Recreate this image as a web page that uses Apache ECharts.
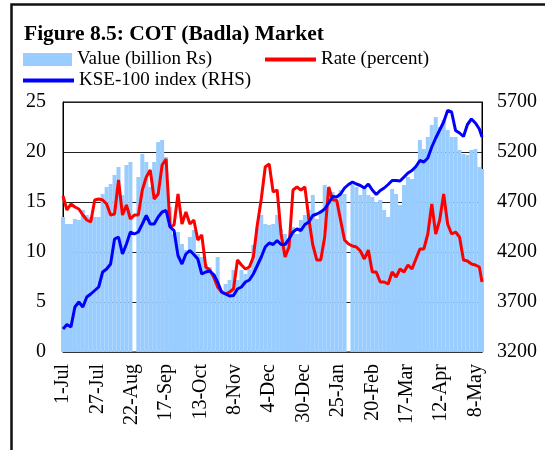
<!DOCTYPE html>
<html>
<head>
<meta charset="utf-8">
<script src="https://cdn.jsdelivr.net/npm/echarts@6/dist/echarts.min.js"></script>
<style>
html,body{margin:0;padding:0;background:#fff;}
#chart{width:545px;height:450px;}
</style>
</head>
<body>
<div id="chart"></div>
<script>
// Day offsets from 1-Jul (sample points)
const days = [0,3,6,9,12,15,18,21,24,27,30,33,36,39,42,45,48,51,54,57,60,63,66,69,72,75,78,81,84,87,90,93,96,99,102,105,108,111,114,117,120,123,126,129,132,135,138,141,144,147,150,153,156,159,162,165,168,171,174,177,180,183,186,189,192,195,198,201,204,207,210,213,216,219,222,225,228,231,234,237,240,243,246,249,252,255,258,261,264,267,270,273,276,279,282,285,288,291,294,297,300,303,306,309,312,315,317];
// Value (billion Rs)
const valueBn = [13.5,12.8,12.8,13.3,13.2,14.2,13.7,13.5,13.5,13.5,15.8,16.5,16.8,17.7,18.5,15.7,18.7,19.0,null,17.5,19.8,19.0,16.5,19.0,21.0,21.2,19.5,14.5,11.8,12.0,10.8,10.2,11.5,12.2,9.8,9.5,8.8,8.5,7.8,9.5,6.2,6.8,7.2,8.2,7.2,8.2,7.8,8.3,10.7,12.5,13.7,12.8,12.7,12.8,13.7,12.3,11.8,11.3,12.5,11.8,13.2,13.7,14.2,15.7,13.3,14.2,16.7,16.2,16.0,15.2,16.2,15.8,null,16.8,16.5,15.7,16.5,15.7,15.5,15.0,15.2,14.2,13.5,16.3,15.8,14.7,16.7,17.5,17.3,18.5,21.2,20.3,21.5,22.7,23.5,22.5,23.2,22.2,21.5,21.5,20.2,19.8,19.7,20.2,20.3,18.5,18.3];
// Rate (percent)
const ratePct = [15.6,14.2,14.8,14.5,14.3,13.7,13.2,13.0,15.2,15.3,15.2,14.8,13.7,13.8,17.2,13.7,14.7,13.3,13.7,13.7,16.2,17.5,18.2,15.3,15.8,18.7,19.3,12.5,12.7,15.8,12.8,14.0,12.8,13.2,11.2,11.7,8.5,8.2,7.5,6.5,6.0,5.8,6.0,6.3,9.2,8.7,8.3,8.5,9.5,12.7,15.3,18.5,18.8,16.0,16.2,11.8,9.5,10.5,16.2,16.5,16.2,16.5,13.3,10.7,9.2,9.2,11.5,16.5,15.2,15.2,13.2,11.2,10.8,10.6,10.5,10.1,9.3,10.2,8.0,8.0,7.0,7.0,6.8,8.0,7.5,8.3,8.0,8.7,8.3,9.3,10.3,10.3,11.8,14.8,11.8,13.2,15.8,12.8,11.8,12.0,11.5,9.2,9.1,8.8,8.7,8.5,7.0];
// KSE-100 index (RHS)
const kseIndex = [3430,3475,3450,3650,3700,3650,3750,3780,3815,3850,4000,4030,4080,4330,4350,4180,4280,4400,4380,4400,4480,4565,4480,4480,4550,4600,4615,4450,4415,4165,4080,4180,4215,4175,4130,3980,4000,4010,3975,3900,3800,3780,3760,3765,3830,3850,3900,3920,3980,4065,4150,4250,4290,4275,4315,4275,4275,4330,4400,4430,4415,4475,4500,4565,4580,4600,4630,4690,4755,4750,4780,4840,4875,4900,4880,4865,4840,4880,4820,4775,4815,4840,4875,4915,4915,4910,4950,4990,5015,5055,5115,5100,5140,5250,5340,5420,5500,5615,5600,5415,5390,5355,5475,5530,5490,5430,5350];
// X tick labels (every 26 days from 1-Jul)
const xTickLabels = ['1-Jul','27-Jul','22-Aug','17-Sep','13-Oct','8-Nov','4-Dec','30-Dec','25-Jan','20-Feb','17-Mar','12-Apr','8-May'];

const pair = arr => days.map((d, i) => [d, arr[i]]);
const serif = '"Liberation Serif","Times New Roman",serif';
const legendText = {fontFamily: serif, fontSize: 19, color: '#000'};

const chart = echarts.init(document.getElementById('chart'), null, {renderer: 'canvas'});
chart.setOption({
  backgroundColor: '#fff',
  animation: false,
  title: {
    text: 'Figure 8.5: COT (Badla) Market',
    left: 24, top: 23, padding: 0,
    textStyle: {fontFamily: serif, fontSize: 21.5, fontWeight: 'bold', color: '#000'}
  },
  legend: [
    {
      data: [{name: 'Value (billion Rs)', icon: 'rect'}],
      left: 23, top: 50, padding: 0, itemWidth: 49, itemHeight: 13,
      textStyle: legendText
    },
    {
      data: [{name: 'Rate (percent)', icon: 'rect'}],
      left: 265, top: 50, padding: 0, itemWidth: 51, itemHeight: 4,
      textStyle: legendText
    },
    {
      data: [{name: 'KSE-100 index (RHS)', icon: 'rect'}],
      left: 23, top: 71, padding: 0, itemWidth: 51, itemHeight: 4,
      textStyle: legendText
    }
  ],
  grid: {left: 63, right: 63, top: 102, bottom: 98, show: true, borderColor: '#000', borderWidth: 1},
  xAxis: {
    type: 'value', min: 0, max: 317, interval: 26,
    axisLine: {show: true, lineStyle: {color: '#333', width: 1}},
    axisTick: {show: false},
    splitLine: {show: false},
    axisLabel: {
      rotate: 90, margin: 12, showMaxLabel: false,
      fontFamily: serif, fontSize: 20, color: '#000',
      formatter: v => { const i = Math.round(v / 26); return (v % 26 === 0 && xTickLabels[i]) ? xTickLabels[i] : ''; }
    }
  },
  yAxis: [
    {
      type: 'value', min: 0, max: 25, interval: 5,
      axisLine: {show: true, lineStyle: {color: '#000'}},
      axisTick: {show: false},
      splitLine: {show: true, lineStyle: {color: '#222', width: 1}},
      axisLabel: {margin: 17, fontFamily: serif, fontSize: 20, color: '#000'}
    },
    {
      type: 'value', min: 3200, max: 5700, interval: 500,
      axisLine: {show: true, lineStyle: {color: '#000'}},
      axisTick: {show: false},
      splitLine: {show: false},
      axisLabel: {margin: 15, fontFamily: serif, fontSize: 20, color: '#000', formatter: v => String(v)}
    }
  ],
  series: [
    {
      name: 'Value (billion Rs)', type: 'bar', yAxisIndex: 0,
      data: pair(valueBn), barWidth: 4,
      itemStyle: {color: '#99ccff'}, z: 1
    },
    {
      name: 'Rate (percent)', type: 'line', yAxisIndex: 0,
      data: pair(ratePct), symbol: 'none', showSymbol: false,
      lineStyle: {color: '#ff0000', width: 3}, itemStyle: {color: '#ff0000'}, z: 3
    },
    {
      name: 'KSE-100 index (RHS)', type: 'line', yAxisIndex: 1,
      data: pair(kseIndex), symbol: 'none', showSymbol: false,
      lineStyle: {color: '#0000ff', width: 3}, itemStyle: {color: '#0000ff'}, z: 4
    }
  ],
  graphic: [
    {type: 'rect', shape: {x: 11.5, y: 4.5, width: 600, height: 500},
     style: {fill: 'none', stroke: '#111', lineWidth: 2.5}, silent: true, z: 100}
  ]
});
</script>
</body>
</html>
